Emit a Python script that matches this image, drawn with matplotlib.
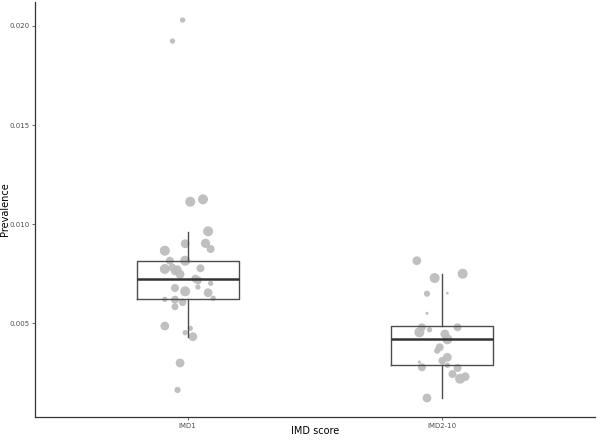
import matplotlib.pyplot as plt
import numpy as np

# Kategoriler
groups = ['IMD1', 'IMD2-10']

# Kutu istatistikleri
q1 = [0.006197, 0.002864]
med = [0.007207, 0.004177]
q3 = [0.008146, 0.004848]
whislo = [0.004308, 0.001227]
whishi = [0.009611, 0.007460]

# Noktalar: x konumu (jitter dahil), değer, boyut
imd1_x = [0.98, 0.94, 1.01, 1.06, 1.08, 0.99, 1.07, 0.91, 1.09, 0.93, 0.99,
          0.91, 0.94, 0.96, 1.05, 0.95, 0.97, 1.03, 1.04, 1.09, 1.04, 0.95,
          0.99, 1.08, 1.10, 0.91, 0.95, 0.98, 1.01, 0.99, 1.02, 0.95, 0.91,
          0.97, 0.96]
imd1_y = [0.02030, 0.01924, 0.011126, 0.011247, 0.009631, 0.009005, 0.009025,
          0.008652, 0.008737, 0.008146, 0.008146, 0.007727, 0.007793, 0.007712,
          0.007763, 0.007611, 0.007460, 0.007237, 0.007157, 0.007005, 0.006818,
          0.006768, 0.006601, 0.006530, 0.006247, 0.006197, 0.006177, 0.006045,
          0.004732, 0.004510, 0.004308, 0.005823, 0.004848, 0.002980, 0.001616]
imd1_s = [15, 15, 52, 52, 52, 40, 45, 52, 33, 33, 52, 52, 33, 33,
          33, 33, 40, 33, 33, 15, 15, 33, 52, 40, 15, 15, 33, 30,
          15, 15, 40, 25, 40, 40, 20]

imd2_x = [1.90, 1.97, 2.08, 1.94, 2.02, 1.94, 1.92, 1.91, 1.95, 2.06, 2.01,
          2.02, 1.99, 1.98, 2.00, 2.02, 2.02, 1.91, 1.92, 2.06, 2.04, 2.07,
          2.09, 1.94]
imd2_y = [0.008146, 0.007273, 0.007490, 0.006480, 0.006500, 0.005490,
          0.004783, 0.004530, 0.004662, 0.004783, 0.004444, 0.004177,
          0.003773, 0.003601, 0.003096, 0.003268, 0.002864, 0.003030,
          0.002763, 0.002727, 0.002424, 0.002187, 0.002288, 0.001212]
imd2_s = [40, 52, 52, 20, 4, 5, 33, 52, 15, 33, 40, 52, 33, 20, 30,
          40, 15, 5, 33, 33, 33, 52, 40, 40]

fig = plt.figure(figsize=(6.02, 4.40), dpi=100)
ax = fig.add_axes([35 / 602, 1 - 417 / 440, 560 / 602, 415 / 440])

pt_color = '#bdbdbd'
ax.scatter(imd1_x, imd1_y, s=imd1_s, color=pt_color, alpha=0.95,
           edgecolors='none', zorder=2)
ax.scatter(imd2_x, imd2_y, s=imd2_s, color=pt_color, alpha=0.95,
           edgecolors='none', zorder=2)

# Kutu grafiği
stats = []
for i in range(len(groups)):
    stats.append({'med': med[i], 'q1': q1[i], 'q3': q3[i],
                  'whislo': whislo[i], 'whishi': whishi[i], 'fliers': []})
ax.bxp(stats, positions=[1, 2], widths=0.4, showcaps=False,
       boxprops=dict(color='#4d4d4d', linewidth=1.0),
       whiskerprops=dict(color='#4d4d4d', linewidth=1.0),
       medianprops=dict(color='#333333', linewidth=1.8),
       zorder=3)

ax.set_xlim(0.4, 2.6)
ax.set_ylim(0.000253, 0.021212)
ax.set_xticks([1, 2])
ax.set_xticklabels(groups)
ax.set_yticks([0.005, 0.010, 0.015, 0.020])
ax.set_yticklabels(['0.005', '0.010', '0.015', '0.020'])

ax.tick_params(axis='both', labelsize=5, colors='#4d4d4d', length=2.5,
               width=0.6, pad=1.5)
ax.set_xlabel('IMD score', fontsize=7, va='center')
ax.set_ylabel('Prevalence', fontsize=7, va='center')
ax.xaxis.set_label_coords(0.5, -14 / 415)
ax.yaxis.set_label_coords(-30 / 560, 0.5)

for side in ['top', 'right']:
    ax.spines[side].set_visible(False)
for side in ['left', 'bottom']:
    ax.spines[side].set_color('#333333')
    ax.spines[side].set_linewidth(0.9)

plt.savefig('out.png', dpi=100)
plt.close()
